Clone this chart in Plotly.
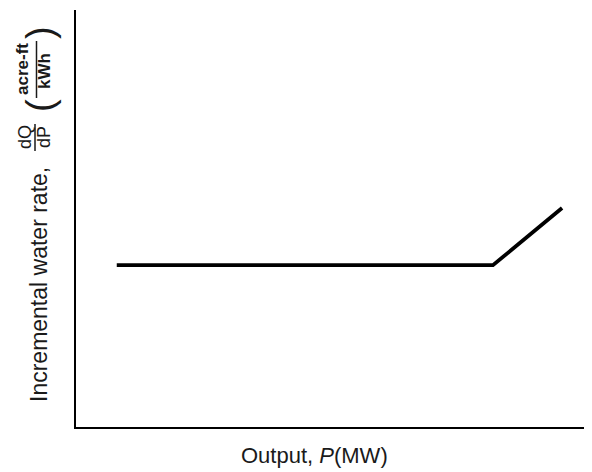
import plotly.graph_objects as go

# Data (arbitrary units on both axes)
output_mw = [7.9, 80.8, 94.2]
water_rate = [38.8, 38.8, 52.5]

# page body has an 8px margin; size the figure so the visible picture matches 592x472
OFF = 8
W, H = 592 - OFF, 472 - OFF
# plot area in reference-picture pixels: x 76..592, y 10..427
X0, X1, Y0, Y1 = 76, 592, 10, 427
L, R, T, B = X0 - OFF, W - (X1 - OFF), Y0 - OFF, H - (Y1 - OFF)
PW, PH = X1 - X0, Y1 - Y0


def px(xp):
    return (xp - X0) / PW


def py(yp):
    return (Y1 - yp) / PH


fig = go.Figure()
fig.add_trace(go.Scatter(x=output_mw, y=water_rate, mode="lines",
                         line=dict(color="black", width=3.8),
                         showlegend=False, hoverinfo="skip"))

axis_common = dict(showline=True, linecolor="black", linewidth=2, showgrid=False,
                   zeroline=False, showticklabels=False, ticks="", range=[0, 100],
                   fixedrange=True)
fig.update_xaxes(**axis_common)
fig.update_yaxes(**axis_common)

font = "Liberation Sans, Arial, sans-serif"
txt = "#1a1a1a"
ann = []


def add(text, x, y, size, bold=False):
    ann.append(dict(text=("<b>%s</b>" % text) if bold else text, x=px(x), y=py(y),
                    xref="paper", yref="paper", showarrow=False, textangle=-90,
                    xanchor="center", yanchor="middle",
                    font=dict(family=font, size=size, color=txt)))


add("Incremental water rate,", 39, 285, 23)
add("dQ", 25, 137, 18)
add("dP", 44, 137, 18)
add("(", 40, 106, 38)
add(")", 40, 33, 38)
add("acre-ft", 22, 69, 17, bold=True)
add("kWh", 45, 71, 17, bold=True)

ann.append(dict(text="Output, <i>P</i>(MW)", x=px(314), y=py(455), xref="paper", yref="paper",
                showarrow=False, xanchor="center", yanchor="middle",
                font=dict(family=font, size=22, color=txt)))

shapes = [
    dict(type="line", xref="paper", yref="paper", x0=px(35), x1=px(35), y0=py(124), y1=py(151),
         line=dict(color=txt, width=1.5)),
    dict(type="line", xref="paper", yref="paper", x0=px(36.5), x1=px(36.5), y0=py(41), y1=py(98),
         line=dict(color=txt, width=1.5)),
]

fig.update_layout(width=W, height=H, margin=dict(l=L, r=R, t=T, b=B),
                  plot_bgcolor="white", paper_bgcolor="white",
                  annotations=ann, shapes=shapes)

fig.write_html("out.html")
